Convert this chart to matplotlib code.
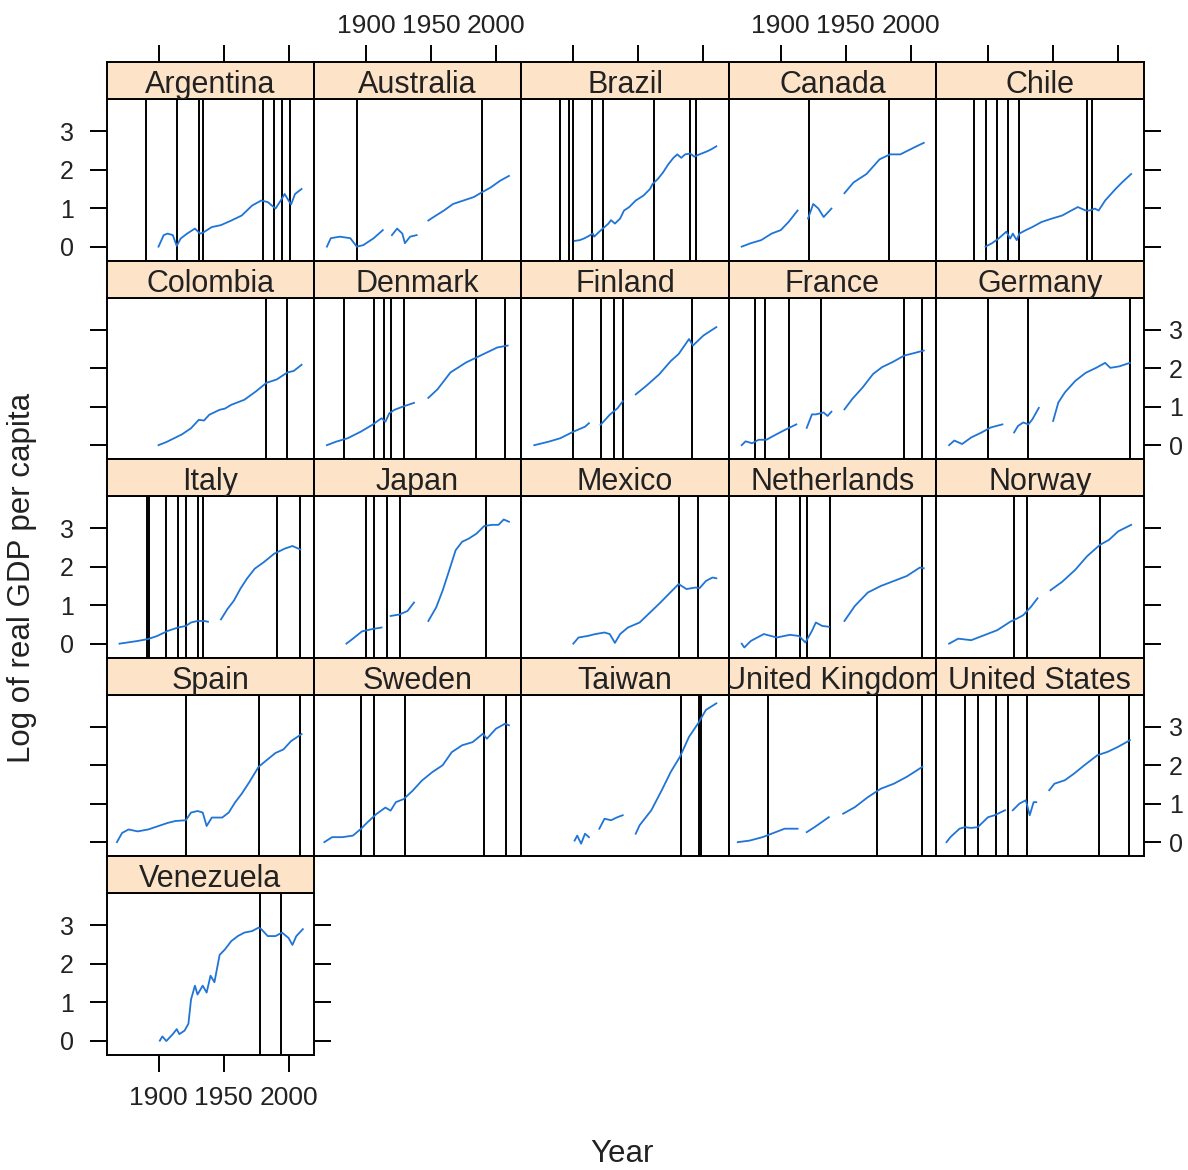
import numpy as np
import matplotlib
matplotlib.use("Agg")
import matplotlib.pyplot as plt

plt.rcParams['font.family'] = ['Liberation Sans', 'DejaVu Sans']

NaN = float('nan')

countries = ["Argentina", "Australia", "Brazil", "Canada", "Chile",
             "Colombia", "Denmark", "Finland", "France", "Germany",
             "Italy", "Japan", "Mexico", "Netherlands", "Norway",
             "Spain", "Sweden", "Taiwan", "United Kingdom", "United States",
             "Venezuela"]

# ---- log real GDP per capita (gaps = NaN) ----
argentina_year = [1900, 1904, 1907, 1911, 1914, 1917, 1922, 1928, 1932, 1934, 1941, 1948, 1956, 1964, 1972, 1979, 1984, 1990, 1994, 1997, 2000, 2002, 2005, 2010]
argentina_gdp = [0.00, 0.30, 0.34, 0.30, 0.02, 0.21, 0.34, 0.47, 0.34, 0.36, 0.51, 0.56, 0.68, 0.81, 1.07, 1.20, 1.16, 0.99, 1.20, 1.37, 1.20, 1.10, 1.37, 1.50]

australia_year = [1870, 1873, 1880, 1888, 1893, 1898, 1906, 1913, 1916, 1920, 1924, 1928, 1930, 1934, 1939, 1943, 1948, 1952, 1960, 1967, 1975, 1983, 1989, 1996, 2003, 2010]
australia_gdp = [0.00, 0.22, 0.26, 0.22, 0.00, 0.04, 0.22, 0.43, NaN, 0.30, 0.47, 0.34, 0.09, 0.26, 0.30, NaN, 0.68, 0.77, 0.94, 1.11, 1.20, 1.29, 1.41, 1.54, 1.71, 1.84]

brazil_year = [1901, 1905, 1908, 1911, 1915, 1916, 1920, 1924, 1927, 1929, 1932, 1936, 1939, 1943, 1948, 1954, 1959, 1961, 1965, 1969, 1973, 1977, 1980, 1983, 1986, 1990, 1993, 1997, 2003, 2006, 2010]
brazil_gdp = [0.15, 0.17, 0.21, 0.26, 0.34, 0.26, 0.39, 0.51, 0.60, 0.69, 0.60, 0.73, 0.94, 1.03, 1.20, 1.33, 1.50, 1.63, 1.76, 1.93, 2.14, 2.31, 2.40, 2.31, 2.40, 2.42, 2.34, 2.40, 2.48, 2.53, 2.61]

canada_year = [1870, 1877, 1885, 1893, 1900, 1906, 1913, 1917, 1921, 1925, 1929, 1933, 1939, 1944, 1949, 1956, 1966, 1976, 1984, 1992, 2002, 2010]
canada_gdp = [0.00, 0.09, 0.17, 0.34, 0.43, 0.64, 0.94, NaN, 0.73, 1.11, 0.99, 0.77, 0.99, NaN, 1.39, 1.67, 1.89, 2.27, 2.40, 2.40, 2.57, 2.70]

chile_year = [1898, 1903, 1908, 1914, 1917, 1919, 1922, 1924, 1929, 1934, 1941, 1949, 1957, 1964, 1969, 1975, 1978, 1982, 1985, 1990, 1998, 2003, 2010]
chile_gdp = [0.00, 0.09, 0.21, 0.39, 0.21, 0.34, 0.17, 0.34, 0.43, 0.51, 0.64, 0.73, 0.81, 0.94, 1.03, 0.94, 0.94, 0.99, 0.94, 1.20, 1.50, 1.67, 1.89]

colombia_year = [1900, 1906, 1912, 1918, 1925, 1931, 1935, 1939, 1947, 1951, 1956, 1966, 1975, 1983, 1991, 1999, 2004, 2010]
colombia_gdp = [0.00, 0.08, 0.18, 0.28, 0.44, 0.66, 0.64, 0.79, 0.92, 0.95, 1.05, 1.18, 1.40, 1.62, 1.71, 1.89, 1.93, 2.09]

denmark_year = [1870, 1877, 1886, 1896, 1905, 1912, 1915, 1918, 1922, 1929, 1937, 1942, 1948, 1955, 1965, 1971, 1977, 1985, 1993, 2001, 2009]
denmark_gdp = [0.00, 0.09, 0.18, 0.35, 0.53, 0.70, 0.61, 0.83, 0.92, 1.01, 1.10, NaN, 1.23, 1.45, 1.89, 2.02, 2.15, 2.28, 2.41, 2.54, 2.59]

finland_year = [1870, 1875, 1881, 1890, 1900, 1909, 1912, 1916, 1921, 1928, 1934, 1938, 1943, 1948, 1956, 1966, 1975, 1981, 1989, 1992, 2000, 2010]
finland_gdp = [0.00, 0.04, 0.09, 0.18, 0.35, 0.48, 0.57, NaN, 0.53, 0.79, 0.96, 1.14, NaN, 1.32, 1.54, 1.84, 2.19, 2.37, 2.76, 2.59, 2.85, 3.07]

france_year = [1870, 1873, 1878, 1883, 1889, 1896, 1904, 1912, 1916, 1920, 1924, 1927, 1933, 1936, 1939, 1944, 1949, 1955, 1963, 1971, 1978, 1986, 1995, 2001, 2010]
france_gdp = [0.00, 0.10, 0.05, 0.14, 0.14, 0.27, 0.41, 0.54, NaN, 0.45, 0.80, 0.80, 0.85, 0.76, 0.87, NaN, 0.93, 1.20, 1.50, 1.85, 2.03, 2.16, 2.33, 2.38, 2.46]

germany_year = [1870, 1874, 1880, 1887, 1895, 1902, 1911, 1915, 1920, 1923, 1927, 1931, 1934, 1939, 1945, 1950, 1954, 1959, 1967, 1975, 1983, 1990, 1994, 2001, 2009]
germany_gdp = [0.00, 0.12, 0.03, 0.20, 0.33, 0.46, 0.54, NaN, 0.33, 0.50, 0.59, 0.54, 0.67, 0.97, NaN, 0.63, 1.11, 1.37, 1.67, 1.88, 2.01, 2.14, 2.01, 2.05, 2.14]

italy_year = [1870, 1876, 1884, 1892, 1899, 1907, 1915, 1921, 1925, 1930, 1935, 1938, 1943, 1948, 1953, 1958, 1963, 1968, 1974, 1981, 1989, 1997, 2003, 2009]
italy_gdp = [0.00, 0.03, 0.07, 0.12, 0.20, 0.33, 0.42, 0.46, 0.55, 0.59, 0.59, 0.57, NaN, 0.63, 0.90, 1.12, 1.43, 1.69, 1.95, 2.12, 2.34, 2.47, 2.54, 2.45]

japan_year = [1885, 1890, 1897, 1905, 1912, 1915, 1919, 1926, 1932, 1937, 1943, 1948, 1954, 1959, 1964, 1969, 1974, 1979, 1985, 1991, 1997, 2002, 2006, 2010]
japan_gdp = [0.00, 0.13, 0.32, 0.38, 0.42, NaN, 0.72, 0.76, 0.85, 1.07, NaN, 0.59, 0.94, 1.38, 1.90, 2.43, 2.65, 2.73, 2.86, 3.06, 3.09, 3.09, 3.23, 3.17]

mexico_year = [1900, 1904, 1911, 1917, 1924, 1928, 1932, 1936, 1942, 1951, 1959, 1967, 1976, 1981, 1987, 1994, 1997, 2002, 2007, 2010]
mexico_gdp = [0.00, 0.16, 0.20, 0.25, 0.29, 0.25, 0.02, 0.25, 0.42, 0.55, 0.81, 1.07, 1.38, 1.55, 1.42, 1.46, 1.44, 1.63, 1.72, 1.70]

netherlands_year = [1870, 1872, 1877, 1887, 1897, 1907, 1914, 1919, 1924, 1927, 1932, 1937, 1943, 1949, 1957, 1967, 1977, 1987, 1997, 2007, 2010]
netherlands_gdp = [0.00, -0.10, 0.07, 0.25, 0.16, 0.23, 0.20, 0.03, 0.33, 0.55, 0.46, 0.44, NaN, 0.59, 0.98, 1.33, 1.50, 1.63, 1.76, 1.98, 1.96]

norway_year = [1870, 1877, 1887, 1897, 1907, 1917, 1922, 1927, 1933, 1938, 1943, 1948, 1957, 1967, 1976, 1986, 1993, 2000, 2010]
norway_gdp = [0.00, 0.13, 0.09, 0.22, 0.35, 0.57, 0.65, 0.74, 0.96, 1.18, NaN, 1.39, 1.61, 1.92, 2.27, 2.57, 2.70, 2.92, 3.09]

spain_year = [1868, 1872, 1877, 1884, 1892, 1900, 1907, 1913, 1921, 1925, 1930, 1934, 1937, 1941, 1949, 1954, 1959, 1964, 1970, 1977, 1982, 1990, 1996, 2002, 2010]
spain_gdp = [0.00, 0.24, 0.33, 0.28, 0.33, 0.42, 0.50, 0.55, 0.57, 0.77, 0.81, 0.77, 0.42, 0.64, 0.64, 0.77, 1.04, 1.26, 1.57, 1.96, 2.10, 2.32, 2.41, 2.63, 2.81]

sweden_year = [1868, 1874, 1882, 1890, 1896, 1901, 1908, 1915, 1919, 1923, 1929, 1936, 1943, 1951, 1959, 1966, 1974, 1982, 1990, 1993, 2000, 2007, 2010]
sweden_gdp = [0.00, 0.13, 0.13, 0.17, 0.34, 0.51, 0.73, 0.90, 0.82, 1.04, 1.12, 1.34, 1.60, 1.82, 2.00, 2.34, 2.52, 2.60, 2.82, 2.69, 2.95, 3.08, 3.04]

taiwan_year = [1901, 1903, 1906, 1909, 1912, 1916, 1920, 1924, 1929, 1934, 1938, 1943, 1948, 1951, 1960, 1968, 1975, 1982, 1989, 1996, 2002, 2010]
taiwan_gdp = [0.04, 0.17, -0.04, 0.22, 0.13, NaN, 0.35, 0.61, 0.57, 0.65, 0.70, NaN, 0.22, 0.44, 0.83, 1.35, 1.83, 2.22, 2.74, 3.09, 3.44, 3.61]

uk_year = [1867, 1876, 1886, 1893, 1903, 1913, 1916, 1920, 1926, 1937, 1942, 1948, 1957, 1967, 1977, 1987, 1997, 2009]
uk_gdp = [0.00, 0.04, 0.13, 0.22, 0.35, 0.35, NaN, 0.26, 0.39, 0.65, NaN, 0.74, 0.91, 1.17, 1.39, 1.52, 1.70, 1.96]

us_year = [1868, 1871, 1878, 1882, 1887, 1892, 1900, 1905, 1913, 1916, 1919, 1924, 1929, 1932, 1935, 1937, 1942, 1947, 1951, 1959, 1966, 1974, 1984, 1992, 2000, 2009]
us_gdp = [0.00, 0.13, 0.35, 0.39, 0.37, 0.39, 0.65, 0.70, 0.83, NaN, 0.83, 1.00, 1.09, 0.70, 1.04, 1.04, NaN, 1.35, 1.52, 1.61, 1.78, 2.00, 2.26, 2.35, 2.48, 2.65]

venezuela_year = [1901, 1903, 1906, 1911, 1914, 1916, 1920, 1923, 1925, 1928, 1930, 1934, 1937, 1940, 1943, 1947, 1951, 1956, 1961, 1966, 1972, 1977, 1979, 1984, 1990, 1995, 2000, 2003, 2006, 2011]
venezuela_gdp = [0.00, 0.11, -0.01, 0.17, 0.30, 0.17, 0.26, 0.44, 1.07, 1.43, 1.20, 1.43, 1.25, 1.69, 1.52, 2.23, 2.37, 2.59, 2.72, 2.81, 2.85, 2.94, 2.90, 2.72, 2.72, 2.81, 2.67, 2.49, 2.72, 2.90]

# ---- banking crisis years (vertical lines) ----
argentina_crises = [1890, 1914, 1931, 1934, 1980, 1989, 1995, 2001]
australia_crises = [1893, 1989]
brazil_crises = [1890, 1897, 1900, 1914, 1923, 1962, 1990, 1994]
canada_crises = [1922, 1983]
chile_crises = [1889, 1898, 1907, 1915, 1924, 1976, 1980]
colombia_crises = [1983, 1999]
denmark_crises = [1883, 1906, 1914, 1919, 1929, 1985, 2007]
finland_crises = [1900, 1921, 1931, 1938, 1991]
france_crises = [1880, 1888, 1906, 1931, 1995, 2009]
germany_crises = [1900, 1931, 2009]
italy_crises = [1891, 1893, 1906, 1915, 1921, 1930, 1934, 1991, 2009]
japan_crises = [1900, 1906, 1916, 1926, 1992]
mexico_crises = [1981, 1996]
netherlands_crises = [1896, 1915, 1920, 1938, 2009]
norway_crises = [1920, 1930, 1986]
spain_crises = [1921, 1977, 2009]
sweden_crises = [1896, 1906, 1930, 1991, 2008]
taiwan_crises = [1983, 1997, 1998]
uk_crises = [1890, 1974, 2009]
us_crises = [1882, 1892, 1906, 1915, 1930, 1985, 2008]
venezuela_crises = [1978, 1994]

series = {
    "Argentina": (argentina_year, argentina_gdp, argentina_crises),
    "Australia": (australia_year, australia_gdp, australia_crises),
    "Brazil": (brazil_year, brazil_gdp, brazil_crises),
    "Canada": (canada_year, canada_gdp, canada_crises),
    "Chile": (chile_year, chile_gdp, chile_crises),
    "Colombia": (colombia_year, colombia_gdp, colombia_crises),
    "Denmark": (denmark_year, denmark_gdp, denmark_crises),
    "Finland": (finland_year, finland_gdp, finland_crises),
    "France": (france_year, france_gdp, france_crises),
    "Germany": (germany_year, germany_gdp, germany_crises),
    "Italy": (italy_year, italy_gdp, italy_crises),
    "Japan": (japan_year, japan_gdp, japan_crises),
    "Mexico": (mexico_year, mexico_gdp, mexico_crises),
    "Netherlands": (netherlands_year, netherlands_gdp, netherlands_crises),
    "Norway": (norway_year, norway_gdp, norway_crises),
    "Spain": (spain_year, spain_gdp, spain_crises),
    "Sweden": (sweden_year, sweden_gdp, sweden_crises),
    "Taiwan": (taiwan_year, taiwan_gdp, taiwan_crises),
    "United Kingdom": (uk_year, uk_gdp, uk_crises),
    "United States": (us_year, us_gdp, us_crises),
    "Venezuela": (venezuela_year, venezuela_gdp, venezuela_crises),
}

x_ticks = [1900, 1950, 2000]
y_ticks = [0, 1, 2, 3]
XLIM = (1860, 2019.5)
YLIM = (-0.36, 3.84)

# ---- layout ----
W, H = 1188, 1170
fig = plt.figure(figsize=(W / 100, H / 100), dpi=100)
fig.patch.set_facecolor('white')

def rect(left, top, w, h):
    return [left / W, 1 - (top + h) / H, w / W, h / H]

COL_L0, COL_W = 106.5, 207.4
ROW_P = 198.5
STRIP_T0, STRIP_H = 62.0, 37.0
PANEL_H = 161.5
LINE_COL = '#1f74d6'
STRIP_COL = '#fde3c8'
TXT = '#222222'
LW = 1.4
TICK_FS = 19
YTICK_FS = 18
TICK_LEN = 12.5

for i, name in enumerate(countries):
    r, c = divmod(i, 5)
    left = COL_L0 + c * COL_W
    strip_top = STRIP_T0 + r * ROW_P
    panel_top = strip_top + STRIP_H

    ax = fig.add_axes(rect(left, panel_top, COL_W, PANEL_H))
    yrs, vals, crises = series[name]
    for cy in crises:
        ax.axvline(cy, color='black', lw=1.4, zorder=2)
    ax.plot(yrs, vals, color=LINE_COL, lw=1.3, zorder=3)
    ax.set_xlim(*XLIM)
    ax.set_ylim(*YLIM)
    for sp in ax.spines.values():
        sp.set_linewidth(LW)
        sp.set_color('black')
        sp.set_zorder(5)

    ax.set_xticks(x_ticks)
    ax.set_yticks(y_ticks)
    ax.set_xticklabels([str(t) for t in x_ticks])
    ax.set_yticklabels([str(t) for t in y_ticks])

    bottom_panel = (name == "Venezuela")
    left_col = (c == 0)
    right_end = (c == 4) or (name == "Venezuela")
    right_labels = right_end and r in (1, 3)

    ax.tick_params(axis='x', which='both', direction='out', length=TICK_LEN, width=LW,
                   colors='black', labelcolor=TXT, labelsize=TICK_FS, pad=10,
                   top=False, labeltop=False,
                   bottom=bottom_panel, labelbottom=bottom_panel)
    ax.tick_params(axis='y', which='both', direction='out', length=TICK_LEN, width=LW,
                   colors='black', labelcolor=TXT, labelsize=YTICK_FS,
                   pad=6 if right_labels else 11,
                   left=left_col, labelleft=left_col and r in (0, 2, 4),
                   right=right_end, labelright=right_labels)

    # strip (top axis of the first row sits above the strip)
    sax = fig.add_axes(rect(left, strip_top, COL_W, STRIP_H))
    sax.set_facecolor(STRIP_COL)
    sax.set_xlim(*XLIM)
    sax.set_ylim(0, 1)
    sax.set_yticks([])
    if r == 0:
        sax.set_xticks(x_ticks)
        sax.set_xticklabels([str(t) for t in x_ticks])
        sax.tick_params(axis='x', direction='out', length=TICK_LEN, width=LW,
                        colors='black', labelcolor=TXT, labelsize=TICK_FS, pad=5,
                        top=True, labeltop=c in (1, 3),
                        bottom=False, labelbottom=False)
    else:
        sax.set_xticks([])
    for sp in sax.spines.values():
        sp.set_linewidth(LW)
        sp.set_color('black')
    sax.text(0.5, 0.16, name, transform=sax.transAxes, ha='center', va='baseline',
             fontsize=22, color=TXT, clip_on=True)

fig.text(22 / W, 1 - 578 / H, "Log of real GDP per capita", rotation=90,
         ha='center', va='center', fontsize=22.5, color=TXT)
fig.text(622 / W, 1 - 1154 / H, "Year", ha='center', va='center',
         fontsize=22.5, color=TXT)

fig.savefig("out.png", dpi=100, facecolor='white')
